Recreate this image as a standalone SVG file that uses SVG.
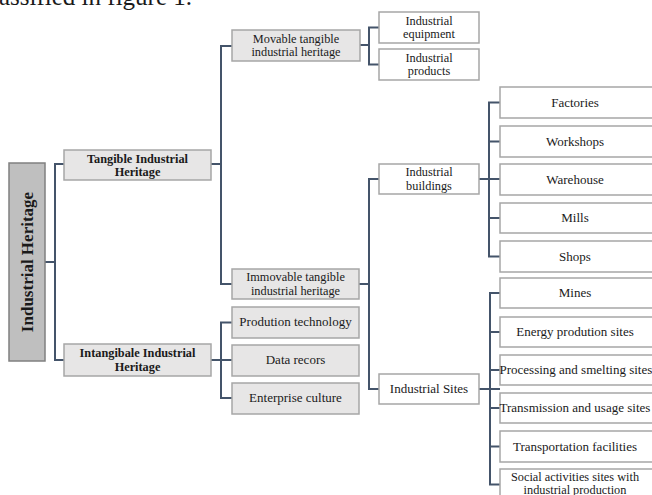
<svg xmlns="http://www.w3.org/2000/svg" width="652" height="495" viewBox="0 0 652 495">
<style>
.g{fill:#e7e6e6;stroke:#a6a6a6;stroke-width:1.5}
.w{fill:#ffffff;stroke:#a6a6a6;stroke-width:1.5}
.r{fill:#bfbfbf;stroke:#808080;stroke-width:1.5}
text{font-family:"Liberation Serif","Times New Roman",serif;font-size:13px;fill:#1a1a1a;text-anchor:middle}
.m{font-size:12.3px}
.b{font-weight:bold}
.s{text-anchor:start}
.c{fill:none;stroke:#44546a;stroke-width:2}
</style>
<rect width="652" height="495" fill="#ffffff"/>
<text class="s" x="-1" y="5" style="font-size:25px">assified in figure 1.</text>
<g id="connectors">
<path class="c" d="M45,262H55M64,164H55V360H64"/>
<path class="c" d="M211,164H221M232,46H221V284H232"/>
<path class="c" d="M211,360H232M232,322.5H221V398H232"/>
<path class="c" d="M360,45H369M379,27.5H369V64.5H379"/>
<path class="c" d="M359,284H369M379,179H369V389H379"/>
<path class="c" d="M479,179H500M500,102.5H489V256.5H500M489,141.5H500M489,218H500"/>
<path class="c" d="M479,389H500M500,293H490V484.5H500M490,332H500M490,370H500M490,408H500M490,446.5H500"/>
</g>
<g id="root"><rect class="r" x="9" y="163" width="36" height="198"/><text class="b" transform="translate(33,262) rotate(-90)" style="font-size:17px">Industrial Heritage</text></g>
<g id="tangible"><rect class="g" x="64" y="150" width="147" height="30"/><text class="b m" x="137.5" y="162.5">Tangible Industrial<tspan x="137.5" dy="13.6">Heritage</tspan></text></g>
<g id="intangible"><rect class="g" x="64" y="344" width="147" height="32"/><text class="b m" x="137.5" y="357">Intangibale Industrial<tspan x="137.5" dy="13.6">Heritage</tspan></text></g>
<g id="movable"><rect class="g" x="232" y="30" width="128" height="31"/><text class="m" x="296" y="42.5">Movable tangible<tspan x="296" dy="13.6">industrial heritage</tspan></text></g>
<g id="immovable"><rect class="g" x="232" y="269" width="127" height="30"/><text class="m" x="295.5" y="281">Immovable tangible<tspan x="295.5" dy="13.6">industrial heritage</tspan></text></g>
<g id="production"><rect class="g" x="232" y="307" width="127" height="31"/><text x="295.5" y="326">Prodution technology</text></g>
<g id="data"><rect class="g" x="232" y="345" width="127" height="31"/><text x="295.5" y="364">Data recors</text></g>
<g id="enterprise"><rect class="g" x="232" y="383" width="127" height="31"/><text x="295.5" y="402">Enterprise culture</text></g>
<g id="equipment"><rect class="w" x="379" y="12" width="100" height="31"/><text class="m" x="429" y="24.5">Industrial<tspan x="429" dy="13.6">equipment</tspan></text></g>
<g id="products"><rect class="w" x="379" y="49" width="100" height="31"/><text class="m" x="429" y="61.5">Industrial<tspan x="429" dy="13.6">products</tspan></text></g>
<g id="buildings"><rect class="w" x="379" y="164" width="100" height="30"/><text class="m" x="429" y="176">Industrial<tspan x="429" dy="13.6">buildings</tspan></text></g>
<g id="sites"><rect class="w" x="379" y="374" width="100" height="30"/><text x="429" y="393">Industrial Sites</text></g>
<g id="factories"><rect class="w" x="500" y="87" width="156" height="31"/><text x="575" y="106.5">Factories</text></g>
<g id="workshops"><rect class="w" x="500" y="126" width="156" height="31"/><text x="575" y="145.5">Workshops</text></g>
<g id="warehouse"><rect class="w" x="500" y="164" width="156" height="31"/><text x="575" y="183.5">Warehouse</text></g>
<g id="mills"><rect class="w" x="500" y="203" width="156" height="30"/><text x="575" y="222">Mills</text></g>
<g id="shops"><rect class="w" x="500" y="241" width="156" height="31"/><text x="575" y="260.5">Shops</text></g>
<g id="mines"><rect class="w" x="500" y="278" width="156" height="30"/><text x="575" y="297">Mines</text></g>
<g id="energy"><rect class="w" x="500" y="317" width="156" height="30"/><text x="575" y="336">Energy prodution sites</text></g>
<g id="processing"><rect class="w" x="500" y="355" width="156" height="30"/><text class="s" x="499.5" y="374">Processing and smelting sites</text></g>
<g id="transmission"><rect class="w" x="500" y="393" width="156" height="30"/><text class="s" x="499.5" y="412">Transmission and usage sites</text></g>
<g id="transportation"><rect class="w" x="500" y="431" width="156" height="31"/><text x="575" y="450.5">Transportation facilities</text></g>
<g id="social"><rect class="w" x="500" y="469" width="156" height="32"/><text class="m" x="575" y="480.5">Social activities sites with<tspan x="575" dy="13.6">industrial production</tspan></text></g>
</svg>
